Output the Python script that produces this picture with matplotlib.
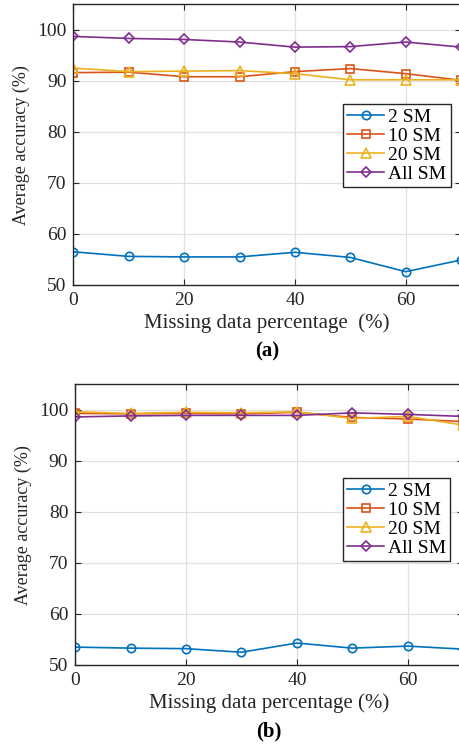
import matplotlib
matplotlib.use("Agg")
import matplotlib.pyplot as plt

plt.rcParams['font.family'] = ['Liberation Serif', 'DejaVu Serif']
plt.rcParams['mathtext.fontset'] = 'stix'

missing = [0, 10, 20, 30, 40, 50, 60, 70]
labels = ["2 SM", "10 SM", "20 SM", "All SM"]

a_2sm = [56.5, 55.6, 55.5, 55.5, 56.4, 55.4, 52.6, 54.9]
a_10sm = [91.6, 91.7, 90.8, 90.8, 91.8, 92.4, 91.4, 90.1]
a_20sm = [92.5, 91.8, 91.9, 92.0, 91.4, 90.2, 90.2, 90.2]
a_all = [98.7, 98.3, 98.1, 97.6, 96.6, 96.7, 97.6, 96.6]

b_2sm = [53.5, 53.3, 53.2, 52.5, 54.3, 53.3, 53.7, 53.1]
b_10sm = [99.3, 99.2, 99.3, 99.2, 99.5, 98.5, 98.2, 97.7]
b_20sm = [99.6, 99.3, 99.5, 99.4, 99.6, 98.3, 98.7, 97.0]
b_all = [98.6, 98.8, 98.9, 98.9, 98.9, 99.4, 99.1, 98.7]

xticks = [0, 20, 40, 60]
yticks = [50, 60, 70, 80, 90, 100]

colors = ['#0072BD', '#D95319', '#EDB120', '#7E2F8E']
markers = ['o', 's', '^', 'D']
msizes = [6, 5.5, 6.5, 5]

fig = plt.figure(figsize=(4.6, 7.46), dpi=100)
ax1 = fig.add_axes([0.1594, 0.618, 0.843, 0.3763])
ax2 = fig.add_axes([0.1637, 0.1086, 0.843, 0.3763])

def draw(ax, series, xlabel, panel, legend_anchor):
    for s, c, m, ms, lab in zip(series, colors, markers, msizes, labels):
        ax.plot(missing, s, color=c, marker=m, markersize=ms, markerfacecolor='none',
                markeredgewidth=1.2, linewidth=1.2, label=lab)
    ax.set_xlim(0, 70)
    ax.set_ylim(50, 105)
    ax.set_xticks(xticks)
    ax.set_yticks(yticks)
    ax.grid(True, color='#e0e0e0', linewidth=0.9)
    ax.set_axisbelow(True)
    ax.tick_params(direction='in', top=True, right=True, labelsize=14, length=4,
                   colors='#262626', labelcolor='#262626', pad=5)
    for sp in ax.spines.values():
        sp.set_color('#262626')
        sp.set_linewidth(1.0)
    ax.set_xlabel(xlabel, fontsize=15, labelpad=3, color='#262626')
    ax.set_ylabel('Average accuracy (%)', fontsize=13, labelpad=5, color='#262626')
    leg = ax.legend(loc='upper left', bbox_to_anchor=legend_anchor, fontsize=14,
                    frameon=True, fancybox=False, edgecolor='#262626', framealpha=1,
                    handlelength=1.9, handletextpad=0.2, borderpad=0.22, labelspacing=0.07,
                    borderaxespad=0)
    leg.get_frame().set_linewidth(1.0)
    ax.text(0.5, -0.2, panel, transform=ax.transAxes, ha='center', va='top',
            fontsize=15, fontweight='bold')

draw(ax1, [a_2sm, a_10sm, a_20sm, a_all], 'Missing data percentage  (%)', '(a)', (0.696, 0.645))
draw(ax2, [b_2sm, b_10sm, b_20sm, b_all], 'Missing data percentage (%)', '(b)', (0.690, 0.665))

fig.savefig('out.png', dpi=100)
